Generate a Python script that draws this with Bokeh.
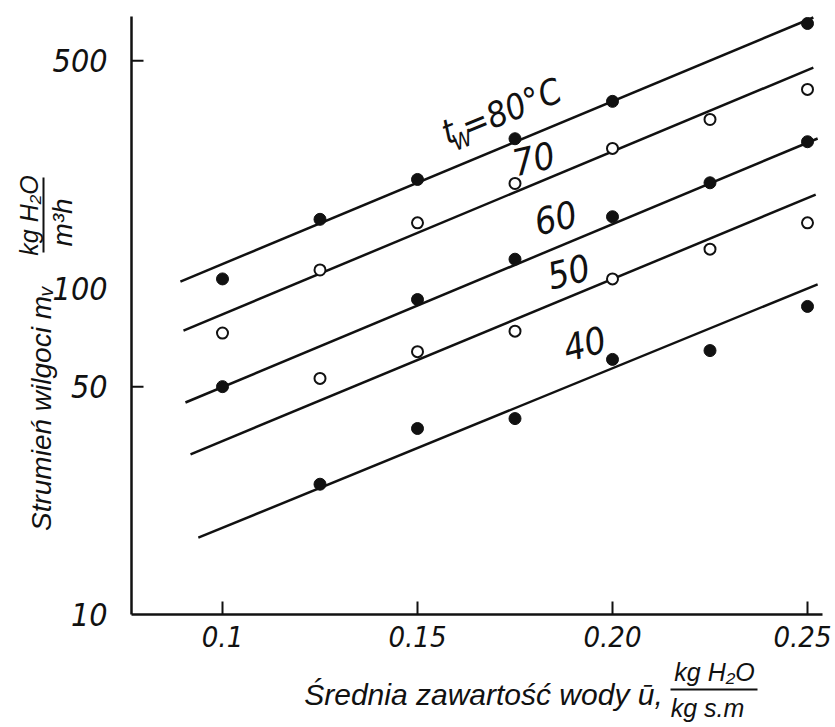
import numpy as np
from bokeh.plotting import figure
from bokeh.models import Label, FixedTicker, Range1d, Arrow, BasicTickFormatter
from bokeh.embed import file_html
from bokeh.resources import INLINE

# ---------------- data ----------------
x_ticks = [0.10, 0.15, 0.20, 0.25]
x_tick_labels = ["0.1", "0.15", "0.20", "0.25"]
y_ticks = [10, 50, 100, 500]
y_tick_labels = ["10", "50", "100", "500"]
y_tick_marks = [50, 500]

# measured points (filled: 80, 60, 40 °C ; open: 70, 50 °C)
u80 = [0.100, 0.125, 0.150, 0.175, 0.200, 0.250]
m80 = [107, 163, 216, 288, 375, 650]
u70 = [0.100, 0.125, 0.150, 0.175, 0.200, 0.225, 0.250]
m70 = [73, 114, 159, 210, 269, 330, 408]
u60 = [0.100, 0.150, 0.175, 0.200, 0.225, 0.250]
m60 = [50, 92.5, 123, 166, 211, 282]
u50 = [0.125, 0.150, 0.175, 0.200, 0.225, 0.250]
m50 = [53, 64, 74, 107, 132, 159]
u40 = [0.125, 0.150, 0.175, 0.200, 0.225, 0.250]
m40 = [25.1, 37.2, 39.9, 60.6, 64.5, 88.1]

# fitted straight lines (end points)
fit80_u = [0.0892, 0.2515]
fit80_m = [105, 678]
fit70_u = [0.0900, 0.2515]
fit70_m = [74.3, 476]
fit60_u = [0.0905, 0.2526]
fit60_m = [44.7, 288.5]
fit50_u = [0.0918, 0.2521]
fit50_m = [31.0, 194]
fit40_u = [0.0938, 0.2526]
fit40_m = [17.2, 103]

series_labels = ["70", "60", "50", "40"]

# ---------------- layout constants ----------------
W, H = 831, 723                 # canvas (frame covers the whole canvas)
PX_U = 3900.0                   # pixels per unit of u
U_AT_222 = 0.1                  # u at canvas x = 222
PX_DEC = 326.0                  # pixels per decade of m
AX_LEFT, AX_RIGHT, AX_TOP, AX_BOTTOM = 131, 822, 16, 614


def u_at(px):
    return U_AT_222 + (px - 222) / PX_U


def m_at(py):
    return 10.0 * 10 ** ((AX_BOTTOM - py) / PX_DEC)


INK = "#111111"
NARROW = "Liberation Sans Narrow, DejaVu Sans Condensed, Liberation Sans"
REG = "Liberation Sans, DejaVu Sans"

p = figure(width=W, height=H,
           x_range=Range1d(u_at(0), u_at(W)), y_range=Range1d(m_at(H), m_at(0)),
           y_axis_type="log", output_backend="svg", toolbar_location=None,
           min_border=0)
p.outline_line_color = None
p.xgrid.visible = False
p.ygrid.visible = False
p.background_fill_color = "white"
p.border_fill_color = "white"

# x axis (drawn inside the frame at m = 10)
xa = p.xaxis[0]
xa.fixed_location = m_at(AX_BOTTOM)
xa.bounds = (u_at(AX_LEFT), u_at(AX_RIGHT))
xa.ticker = FixedTicker(ticks=x_ticks)
xa.major_label_overrides = {t: l for t, l in zip(x_ticks, x_tick_labels)}
xa.major_tick_in = 13
xa.major_tick_out = 0
xa.minor_tick_in = 0
xa.minor_tick_out = 0
xa.axis_line_width = 2.5
xa.axis_line_color = INK
xa.major_tick_line_width = 2
xa.major_tick_line_color = INK
xa.major_label_standoff = 11
xa.major_label_text_font = NARROW
xa.major_label_text_font_style = "italic"
xa.major_label_text_font_size = "29px"
xa.major_label_text_color = INK

# y axis (drawn inside the frame at the left end of the u-scale)
ya = p.yaxis[0]
ya.fixed_location = u_at(AX_LEFT)
ya.bounds = (m_at(AX_BOTTOM), m_at(AX_TOP))
ya.ticker = FixedTicker(ticks=y_ticks)
ya.formatter = BasicTickFormatter()
ya.major_label_overrides = {t: l for t, l in zip(y_ticks, y_tick_labels)}
ya.major_tick_in = 0
ya.major_tick_out = 0
ya.minor_tick_in = 0
ya.minor_tick_out = 0
ya.axis_line_width = 2.5
ya.axis_line_color = INK
ya.major_label_standoff = 24
ya.major_label_text_font = NARROW
ya.major_label_text_font_style = "italic"
ya.major_label_text_font_size = "32px"
ya.major_label_text_color = INK

# inward y tick marks at 50 and 500
x_axis_pos = u_at(AX_LEFT)
tick_len = 12 / PX_U
p.segment(x0=[x_axis_pos] * len(y_tick_marks), y0=y_tick_marks,
          x1=[x_axis_pos + tick_len] * len(y_tick_marks), y1=y_tick_marks,
          line_width=2, line_color=INK)

# fitted lines
for fu, fm in [(fit80_u, fit80_m), (fit70_u, fit70_m), (fit60_u, fit60_m),
               (fit50_u, fit50_m), (fit40_u, fit40_m)]:
    p.line(fu, fm, line_width=2.5, line_color=INK)

# points
for uu, mm in [(u80, m80), (u60, m60), (u40, m40)]:
    p.scatter(uu, mm, marker="circle", size=12, fill_color=INK, line_color=INK)
for uu, mm in [(u70, m70), (u50, m50)]:
    p.scatter(uu, mm, marker="circle", size=11, fill_color="white",
              line_color=INK, line_width=2)


# ---------------- annotations (canvas-pixel placement) ----------------
def page_label(text, px, py, size, angle_deg=0.0, font=REG,
               align="center", baseline="middle"):
    p.add_layout(Label(x=px, y=H - py, x_units="screen", y_units="screen",
                       text=text, angle=np.radians(angle_deg),
                       text_align=align, text_baseline=baseline,
                       text_font=font, text_font_style="italic",
                       text_font_size=f"{size}px", text_color=INK))


def page_bar(x0, y0, x1, y1):
    p.add_layout(Arrow(x_start=x0, y_start=H - y0, x_end=x1, y_end=H - y1,
                       start_units="screen", end_units="screen",
                       start=None, end=None, line_width=2, line_color=INK))


# series labels
page_label("t", 448, 131, 34, 22, NARROW)
page_label("W", 462, 140, 22, 22, NARROW)
page_label("=80°C", 511, 108, 35, 22, NARROW)
page_label(series_labels[0], 533, 158, 37, 13, NARROW)
page_label(series_labels[1], 555, 217, 37, 13, NARROW)
page_label(series_labels[2], 568, 271, 37, 14, NARROW)
page_label(series_labels[3], 584, 343, 37, 14, NARROW)

# y axis title
page_label("Strumień wilgoci mᵥ", 41, 408, 28, 90)
page_label("kg H₂O", 28, 215, 25, 90)
page_bar(43, 252, 43, 177)
page_label("m³h", 62, 222, 28, 90)

# x axis title
page_label("Średnia zawartość wody ū,", 483, 694, 30)
page_label("kg H₂O", 714, 671, 25)
page_bar(670, 689, 757, 689)
page_label("kg s.m", 707, 707, 25)

open("out.html", "w").write(file_html(p, INLINE))
